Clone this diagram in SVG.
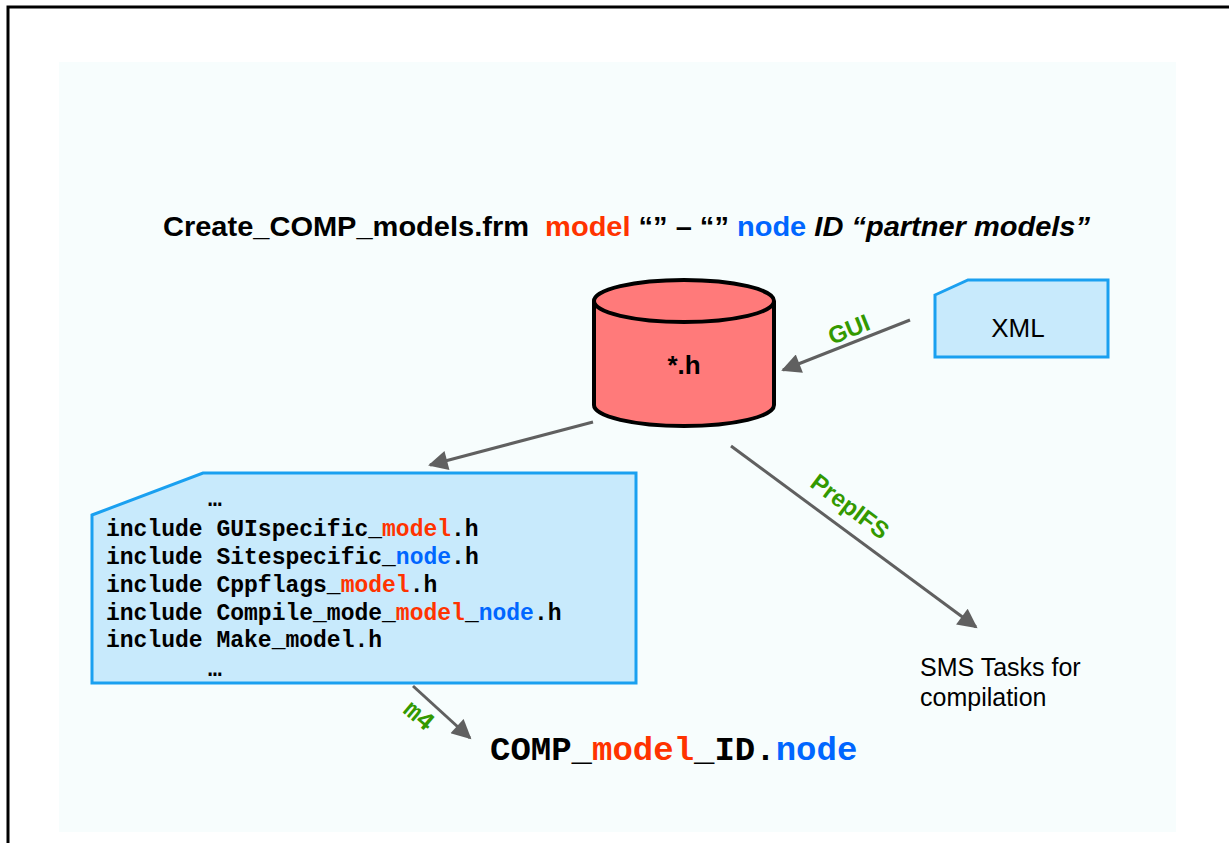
<svg xmlns="http://www.w3.org/2000/svg" width="1229" height="843" viewBox="0 0 1229 843">
<style>
.sans{font-family:"Liberation Sans",Arial,sans-serif}
.mono{font-family:"Liberation Mono","Courier New",monospace;font-weight:bold}
.red{fill:#ff3300}
.blue{fill:#0066ff}
.green{fill:#339900;font-weight:bold}
.conn{stroke:#606060;stroke-width:3;fill:none;marker-end:url(#ah)}
.doc{fill:#c8eafc;stroke:#1aa0f0;stroke-width:3}
</style>
<defs>
<marker id="ah" viewBox="0 0 10 10" refX="9" refY="5" markerWidth="7" markerHeight="6.5" orient="auto" markerUnits="strokeWidth">
<path d="M0,0 L10,5 L0,10 z" fill="#606060"/>
</marker>
</defs>
<rect x="0" y="0" width="1229" height="843" fill="#ffffff"/>
<path d="M8,843 V7 H1229" fill="none" stroke="#000" stroke-width="3"/>
<rect x="59" y="62" width="1117" height="770" fill="#f7fdfd"/>
<g id="title">
<text class="sans" x="163" y="236" font-size="28" font-weight="bold" fill="#000" xml:space="preserve" textLength="927" lengthAdjust="spacingAndGlyphs">Create_COMP_models.frm  <tspan class="red">model</tspan> “” – “” <tspan class="blue">node</tspan> <tspan font-style="italic">ID “partner models”</tspan></text>
</g>
<g id="connectors">
<line class="conn" x1="910" y1="320" x2="783" y2="370"/>
<line class="conn" x1="593" y1="422" x2="430" y2="465"/>
<line class="conn" x1="413" y1="686" x2="470" y2="738"/>
<line class="conn" x1="731" y1="446" x2="976" y2="627"/>
<text class="sans green" font-size="24" transform="translate(852,337) rotate(-22)" text-anchor="middle">GUI</text>
<text class="sans green" font-size="24" transform="translate(845,513) rotate(37)" text-anchor="middle">PrepIFS</text>
<text class="mono green" font-size="26" transform="translate(414,722) rotate(40)" text-anchor="middle">m4</text>
</g>
<g id="db">
<path d="M594,301 V405 A90,21 0 0 0 774,405 V301" fill="#ff7a7a" stroke="#000" stroke-width="4"/>
<ellipse cx="684" cy="301" rx="90" ry="21" fill="#ff7a7a" stroke="#000" stroke-width="4"/>
<text class="sans" x="684" y="374" font-size="26" font-weight="bold" text-anchor="middle" fill="#000">*.h</text>
</g>
<g id="xml">
<path class="doc" d="M935,295 L968,280 H1108 V357 H935 Z"/>
<text class="sans" x="1018" y="337" font-size="26" text-anchor="middle" fill="#000">XML</text>
</g>
<g id="includes">
<path class="doc" d="M92,515 L203,473 H636 V683 H92 Z"/>
<g class="mono" font-size="23" fill="#000">
<text x="208" y="506">…</text>
<text x="106" y="536">include GUIspecific_<tspan class="red">model</tspan>.h</text>
<text x="106" y="564">include Sitespecific_<tspan class="blue">node</tspan>.h</text>
<text x="106" y="592">include Cppflags_<tspan class="red">model</tspan>.h</text>
<text x="106" y="620">include Compile_mode_<tspan class="red">model</tspan>_<tspan class="blue">node</tspan>.h</text>
<text x="106" y="647">include Make_model.h</text>
<text x="208" y="676">…</text>
</g>
</g>
<g id="output">
<text class="mono" x="490" y="760" font-size="34" fill="#000">COMP_<tspan class="red">model</tspan>_ID.<tspan class="blue">node</tspan></text>
</g>
<g id="sms">
<text class="sans" font-size="25" fill="#000"><tspan x="920" y="676">SMS Tasks for</tspan><tspan x="920" y="706">compilation</tspan></text>
</g>
</svg>
